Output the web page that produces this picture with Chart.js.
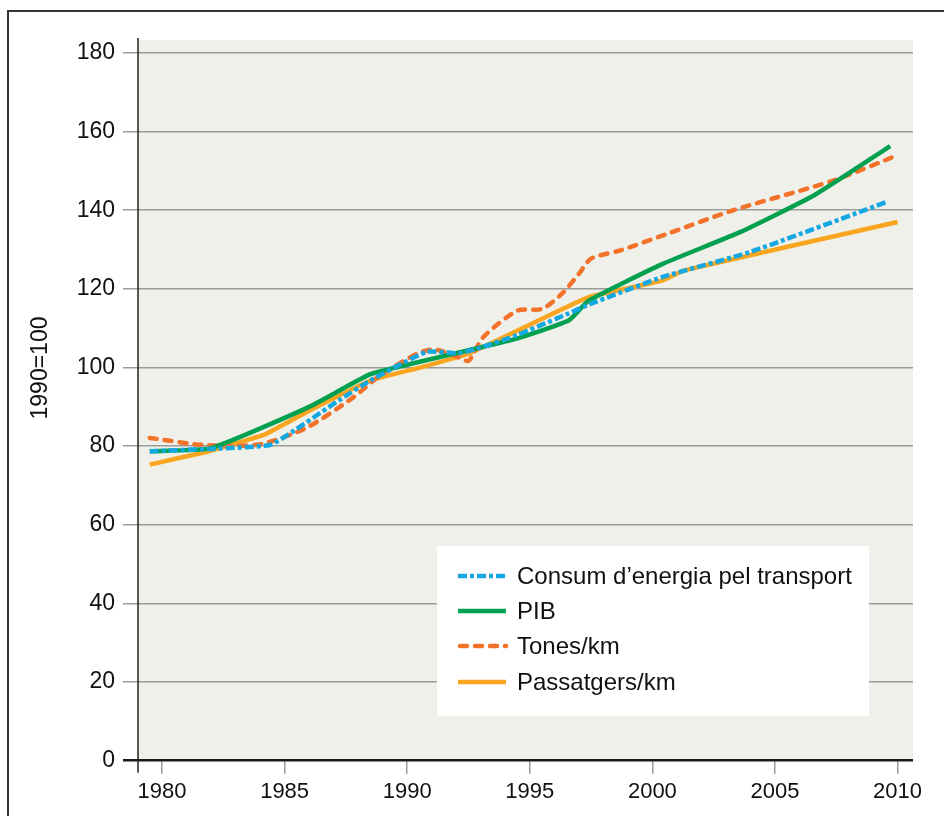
<!DOCTYPE html>
<html>
<head>
<meta charset="utf-8">
<script src="https://cdn.jsdelivr.net/npm/chart.js@4/dist/chart.umd.min.js"></script>
<style>
  body { margin: 0; background: #fff; }
  #wrap { position: relative; width: 944px; height: 816px; overflow: hidden; }
</style>
</head>
<body>
<div id="wrap"><canvas id="indexChart" width="944" height="816"></canvas></div>
<script>
// Index 1990=100, values
const yTicks = [0, 20, 40, 60, 80, 100, 120, 140, 160, 180];
const xTicks = [1980, 1985, 1990, 1995, 2000, 2005, 2010];

const energyYears = [1979.5, 1982, 1984.4, 1985.4, 1987.2, 1988.5, 1990.8, 1992.1, 1992.9, 1994.5, 1996.6, 1997.4, 2000.4, 2004, 2009.6];
const energyVals  = [78.7, 79.3, 80.3, 84, 91.6, 96.7, 104, 103.6, 104.9, 108.3, 113.8, 116, 123, 129.4, 142.2];

const pibYears = [1979.5, 1982, 1986, 1988.5, 1990.6, 1992.5, 1994.5, 1996.6, 1997.4, 2000.4, 2003.6, 2006.6, 2009.7];
const pibVals  = [78.7, 79.5, 90, 98.3, 101.6, 104.4, 107.4, 112, 117, 126.3, 134.5, 143.8, 156.3];

const tonesYears = [1979.5, 1981.7, 1984, 1985.9, 1987.8, 1988.9, 1990.4, 1991.1, 1992.1, 1992.5, 1993.1, 1994.5, 1995.5, 1996.3, 1997, 1997.5, 1998.7, 2000.6, 2003.3, 2007.4, 2010];
const tonesVals  = [82.1, 80.3, 80.5, 84.7, 92.4, 98, 103.5, 104.6, 102.6, 101.7, 107.7, 114.5, 114.9, 118.7, 123.8, 127.7, 129.8, 134, 140, 147.6, 154];

const passYears = [1979.5, 1981.9, 1984.2, 1986, 1988.5, 1990.6, 1992.5, 1994.5, 1997.4, 2000.4, 2001.3, 2010];
const passVals  = [75.3, 78.7, 83, 89, 96.7, 100.1, 103.5, 109.4, 117.9, 122.1, 124.7, 137];

const labels = ['Consum d\u2019energia pel transport', 'PIB', 'Tones/km', 'Passatgers/km'];

function pts(xs, ys) {
    return xs.map((x, i) => ({ x: x, y: ys[i] }));
}

// background, frame, axis line, y title and the boxed legend
const decor = {
    id: 'decor',
    beforeDraw(chart) {
        const { ctx, chartArea: a } = chart;
        ctx.save();
        ctx.fillStyle = '#f0f0eb';
        ctx.fillRect(a.left, a.top, a.right - a.left, a.bottom - a.top);
        ctx.strokeStyle = '#333';
        ctx.lineWidth = 2;
        ctx.strokeRect(8, 11, 1000, 1000);
        ctx.restore();
    },
    afterDraw(chart) {
        const { ctx, chartArea: a } = chart;
        ctx.save();
        ctx.strokeStyle = '#222';
        ctx.lineWidth = 1.5;
        ctx.beginPath();
        ctx.moveTo(a.left, a.top - 2);
        ctx.lineTo(a.left, a.bottom + 12);
        ctx.stroke();

        ctx.fillStyle = '#111';
        ctx.font = '23px "Liberation Sans", Arial, sans-serif';
        ctx.textAlign = 'center';
        ctx.textBaseline = 'middle';
        ctx.translate(41, 368);
        ctx.rotate(-Math.PI / 2);
        ctx.fillText('1990=100', 0, 0);
        ctx.restore();

        // legend
        ctx.save();
        ctx.fillStyle = '#fff';
        ctx.fillRect(437, 546, 432, 170);
        const rows = [576, 611, 646, 682];
        chart.data.datasets.forEach((ds, i) => {
            ctx.strokeStyle = ds.borderColor;
            ctx.lineWidth = ds.borderWidth;
            ctx.lineCap = ds.borderCapStyle || 'butt';
            ctx.setLineDash(ds.borderDash || []);
            ctx.beginPath();
            ctx.moveTo(ds.borderCapStyle === 'round' ? 460 : 458, rows[i]);
            ctx.lineTo(506, rows[i]);
            ctx.stroke();
            ctx.setLineDash([]);
            ctx.fillStyle = '#111';
            ctx.font = '24px "Liberation Sans", Arial, sans-serif';
            ctx.textAlign = 'left';
            ctx.textBaseline = 'middle';
            ctx.fillText(ds.label, 517, rows[i] + 1);
        });
        ctx.restore();
    }
};

const ctx = document.getElementById('indexChart').getContext('2d');
const indexChart = new Chart(ctx, {
    type: 'line',
    data: {
        datasets: [{
            label: labels[0],
            data: pts(energyYears, energyVals),
            borderColor: '#14a8e2',
            borderWidth: 4.5,
            borderDash: [9, 3, 4, 3],
            tension: 0.15
        }, {
            label: labels[1],
            data: pts(pibYears, pibVals),
            borderColor: '#03a14f',
            borderWidth: 4.5,
            tension: 0.15
        }, {
            label: labels[2],
            data: pts(tonesYears, tonesVals),
            borderColor: '#f2722a',
            borderWidth: 4.5,
            borderDash: [7, 8],
            borderCapStyle: 'round',
            tension: 0.25
        }, {
            label: labels[3],
            data: pts(passYears, passVals),
            borderColor: '#f9a51f',
            borderWidth: 4.5,
            tension: 0.1
        }]
    },
    options: {
        responsive: false,
        animation: false,
        layout: { padding: { top: 40, right: 31, left: 0, bottom: 0 } },
        elements: { point: { radius: 0 } },
        plugins: {
            legend: { display: false },
            tooltip: { enabled: false }
        },
        scales: {
            x: {
                type: 'linear',
                min: 1979.02,
                max: 2010.63,
                afterBuildTicks: axis => { axis.ticks = xTicks.map(v => ({ value: v })); },
                afterFit: scale => { scale.height = 55.3; },
                border: { display: false },
                grid: { drawOnChartArea: false, color: '#999', lineWidth: 1.5, tickLength: 13 },
                ticks: {
                    padding: 5,
                    color: '#111',
                    font: { family: '"Liberation Sans", Arial, sans-serif', size: 22 },
                    callback: v => String(v)
                }
            },
            y: {
                min: 0,
                max: 183.3,
                afterBuildTicks: axis => { axis.ticks = yTicks.map(v => ({ value: v })); },
                afterFit: scale => { scale.width = 138; },
                border: { display: false },
                grid: {
                    color: c => c.tick && c.tick.value === 0 ? '#1a1a1a' : '#9b9b9b',
                    lineWidth: c => c.tick && c.tick.value === 0 ? 2.5 : 1.5,
                    tickLength: 15
                },
                ticks: {
                    padding: 8,
                    color: '#111',
                    font: { family: '"Liberation Sans", Arial, sans-serif', size: 23 },
                    callback: v => String(v)
                }
            }
        }
    },
    plugins: [decor]
});
</script>
</body>
</html>
